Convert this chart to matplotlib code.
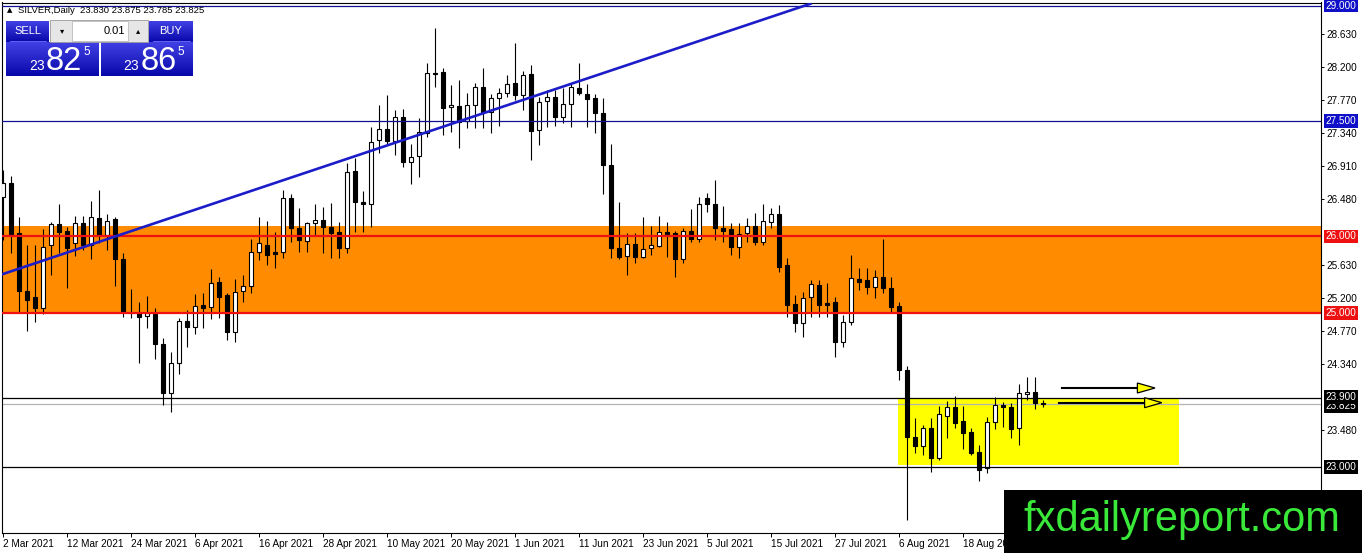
import numpy as np
import matplotlib
matplotlib.use("Agg")
import matplotlib.pyplot as plt
from matplotlib.patches import Rectangle, Polygon
from matplotlib.colors import LinearSegmentedColormap

plt.rcParams['font.family'] = ['Liberation Sans', 'DejaVu Sans']

# daily OHLC, 2 Mar 2021 .. 1 Sep 2021
opens = [
    26.511, 26.693, 26.043, 25.289, 25.211, 25.068, 25.887, 26.160, 26.069, 25.913,
    26.173, 25.887, 26.238, 26.017, 26.225, 25.705, 25.016, 25.016, 24.964, 24.990,
    24.600, 23.963, 24.353, 24.899, 24.821, 25.107, 25.081, 25.406, 25.237, 24.756,
    25.289, 25.354, 25.796, 25.887, 25.796, 25.796, 26.498, 26.108, 25.939, 26.173,
    26.212, 26.121, 26.056, 25.848, 26.849, 26.446, 26.420, 27.252, 27.395, 27.239,
    27.551, 26.966, 27.044, 27.343, 28.123, 28.136, 27.681, 27.694, 27.499, 27.707,
    27.941, 27.616, 27.798, 27.863, 27.993, 27.837, 28.110, 27.382, 27.759, 27.811,
    27.551, 27.720, 27.928, 27.850, 27.798, 27.603, 26.927, 25.848, 25.744, 25.900,
    25.731, 25.848, 25.874, 26.056, 26.043, 25.705, 26.069, 25.965, 26.498, 26.420,
    26.108, 26.095, 25.861, 26.043, 26.134, 25.926, 26.186, 26.290, 25.627, 25.120,
    24.873, 25.211, 25.367, 25.133, 25.146, 24.626, 24.886, 25.445, 25.432, 25.341,
    25.471, 25.328, 25.094, 24.262, 23.391, 23.274, 23.508, 23.118, 23.664, 23.781,
    23.599, 23.456, 23.196, 22.988, 23.586, 23.807, 23.781, 23.508, 23.950, 23.976,
    23.830]
highs = [
    26.862, 26.784, 26.251, 25.887, 25.887, 26.095, 26.186, 26.420, 26.121, 26.264,
    26.264, 26.459, 26.602, 26.290, 26.251, 25.783, 25.315, 25.146, 25.224, 25.068,
    24.678, 24.496, 24.938, 25.042, 25.250, 25.263, 25.575, 25.471, 25.263, 25.445,
    25.497, 25.965, 26.251, 26.199, 26.056, 26.602, 26.550, 26.368, 26.186, 26.420,
    26.381, 26.433, 26.186, 26.953, 27.018, 26.589, 27.421, 27.707, 27.837, 27.642,
    27.655, 27.200, 27.538, 28.253, 28.708, 28.188, 27.967, 28.032, 27.863, 27.993,
    28.188, 27.850, 27.928, 28.097, 28.513, 28.149, 28.227, 27.811, 27.902, 27.902,
    27.928, 27.993, 28.253, 27.980, 27.850, 27.798, 27.200, 26.446, 26.043, 26.043,
    26.251, 26.134, 26.264, 26.186, 26.069, 26.108, 26.355, 26.511, 26.563, 26.732,
    26.394, 26.173, 26.173, 26.238, 26.303, 26.420, 26.368, 26.407, 25.718, 25.237,
    25.276, 25.432, 25.432, 25.393, 25.211, 24.977, 25.757, 25.588, 25.588, 25.562,
    25.965, 25.471, 25.146, 24.314, 23.638, 23.547, 23.638, 23.794, 23.859, 23.924,
    23.794, 23.508, 23.287, 23.651, 23.911, 23.846, 23.833, 24.080, 24.171, 24.171,
    23.875]
lows = [
    25.952, 25.783, 25.016, 24.769, 24.886, 24.990, 25.497, 25.783, 25.328, 25.744,
    25.822, 25.705, 25.913, 25.822, 25.354, 24.951, 24.938, 24.353, 24.808, 24.405,
    23.807, 23.716, 24.210, 24.561, 24.730, 24.808, 24.925, 24.938, 24.652, 24.626,
    25.146, 25.263, 25.692, 25.627, 25.588, 25.718, 25.926, 25.796, 25.796, 26.017,
    25.783, 25.718, 25.718, 25.783, 26.056, 26.056, 26.121, 27.083, 27.187, 27.057,
    26.901, 26.680, 26.771, 27.291, 27.941, 27.317, 27.356, 27.148, 27.408, 27.408,
    27.408, 27.343, 27.434, 27.811, 27.772, 27.642, 26.992, 27.187, 27.421, 27.434,
    27.473, 27.421, 27.837, 27.421, 27.343, 26.550, 25.718, 25.705, 25.497, 25.653,
    25.718, 25.757, 25.861, 25.731, 25.471, 25.653, 25.926, 25.926, 26.316, 25.952,
    25.926, 25.757, 25.718, 25.926, 25.887, 25.887, 26.108, 25.536, 24.951, 24.756,
    24.691, 24.951, 24.951, 24.951, 24.431, 24.561, 24.847, 25.302, 25.250, 25.198,
    25.263, 25.016, 24.132, 22.312, 23.183, 23.157, 22.936, 23.092, 23.378, 23.508,
    23.235, 23.157, 22.819, 22.923, 23.495, 23.521, 23.378, 23.287, 23.872, 23.755,
    23.785]
closes = [
    26.693, 26.030, 25.289, 25.172, 25.068, 25.861, 26.160, 26.056, 25.848, 26.173,
    25.887, 26.251, 26.017, 26.199, 25.705, 25.016, 25.003, 24.951, 25.003, 24.600,
    23.963, 24.353, 24.899, 24.821, 25.094, 25.068, 25.393, 25.211, 24.756, 25.276,
    25.354, 25.796, 25.913, 25.757, 25.770, 26.498, 26.108, 25.952, 26.173, 26.212,
    26.121, 26.043, 25.848, 26.836, 26.446, 26.420, 27.226, 27.395, 27.239, 27.551,
    26.966, 27.031, 27.356, 28.123, 28.110, 27.668, 27.707, 27.486, 27.707, 27.941,
    27.616, 27.798, 27.863, 27.980, 27.837, 28.097, 27.369, 27.746, 27.811, 27.551,
    27.720, 27.941, 27.863, 27.785, 27.603, 26.927, 25.848, 25.731, 25.900, 25.731,
    25.835, 25.887, 26.056, 26.030, 25.705, 26.069, 25.965, 26.420, 26.420, 26.108,
    26.069, 25.861, 26.030, 26.134, 25.926, 26.199, 26.290, 25.601, 25.107, 24.873,
    25.198, 25.380, 25.107, 25.107, 24.626, 24.886, 25.458, 25.406, 25.341, 25.471,
    25.328, 25.081, 24.262, 23.391, 23.274, 23.508, 23.118, 23.690, 23.781, 23.573,
    23.443, 23.183, 22.962, 23.586, 23.807, 23.781, 23.495, 23.963, 23.976, 23.833,
    23.825]

date_ticks = [0, 8, 16, 24, 32, 40, 48, 56, 64, 72, 80, 88, 96, 104, 112, 120, 128]
date_labels = ["2 Mar 2021", "12 Mar 2021", "24 Mar 2021", "6 Apr 2021", "16 Apr 2021",
               "28 Apr 2021", "10 May 2021", "20 May 2021", "1 Jun 2021", "11 Jun 2021",
               "23 Jun 2021", "5 Jul 2021", "15 Jul 2021", "27 Jul 2021", "6 Aug 2021",
               "18 Aug 2021", "30 Aug 2021"]
price_ticks = [28.630, 28.200, 27.770, 27.340, 26.910, 26.480, 25.630, 25.200,
               24.770, 24.340, 23.480]

# drawn objects
zone_low, zone_high = 25.000, 26.134
red_levels = [26.000, 25.000]
blue_levels = [29.000, 27.500]
black_levels = [23.900, 23.000]
bid = 23.825
trend_x = [-0.375, 101.1]
trend_y = [25.497, 29.030]
box_x = [111.9, 147.0]
box_y = [23.027, 23.890]
arrows = [(132.4, 141.8, 144.0, 24.028), (132.0, 142.7, 144.85, 23.837)]

W, H = 1362, 553
fig = plt.figure(figsize=(W / 100, H / 100), dpi=100)
ax = fig.add_axes([2 / W, 1 - 533 / H, 1319 / W, 530.5 / H])
ax.set_xlim(-0.125, 164.75)
ax.set_ylim(22.143, 29.040)

o = np.array(opens)
h = np.array(highs)
l = np.array(lows)
c = np.array(closes)
x = np.arange(len(o))

ax.axhspan(zone_low, zone_high, color='#ff8c00', lw=0, zorder=0)
ax.add_patch(Rectangle((box_x[0], box_y[0]), box_x[1] - box_x[0], box_y[1] - box_y[0],
                       color='#ffff00', lw=0, zorder=0.5))

ax.vlines(x, l, h, color='black', lw=0.8, zorder=3)
face = np.where(c >= o, 'white', 'black')
ax.bar(x, np.maximum(np.abs(c - o), 0.004), bottom=np.minimum(o, c), width=0.55,
       color=face, edgecolor='black', linewidth=0.8, zorder=4)

for lv in blue_levels:
    ax.axhline(lv, color='#101090', lw=0.9, zorder=5)
for lv in black_levels:
    ax.axhline(lv, color='black', lw=0.9, zorder=5)
ax.axhline(bid, color='#b4b4b4', lw=0.9, zorder=2)
for lv in red_levels:
    ax.axhline(lv, color='#ee1111', lw=1.6, zorder=5)

ax.plot(trend_x, trend_y, color='#1c1cc8', lw=1.9, zorder=6, solid_capstyle='butt')

for x0, x1, tip, yv in arrows:
    ax.plot([x0, x1], [yv, yv], color='black', lw=1.5, zorder=6)
    ax.add_patch(Polygon([[x1, yv + 0.065], [x1, yv - 0.065], [tip, yv]],
                         closed=True, fc='#ffff00', ec='black', lw=0.9, zorder=7))

# axes styling
for s in ax.spines.values():
    s.set_color('black')
    s.set_linewidth(0.8)
ax.yaxis.tick_right()
ax.set_yticks(price_ticks)
ax.set_yticklabels(['%.3f' % v for v in price_ticks])
ax.tick_params(axis='y', length=2.5, width=0.7, pad=1.5, labelsize=7.2)
ax.set_xticks(date_ticks)
ax.set_xticklabels(date_labels)
ax.tick_params(axis='x', length=3, width=0.7, pad=1.5, labelsize=7.2)
plt.setp(ax.get_xticklabels(), ha='left')

tr = ax.get_yaxis_transform()
# (level, colour, small vertical nudge so stacked tags stay readable)
tags = [(29.000, '#1010c8', 0), (27.500, '#1010c8', 0), (26.000, '#ee1111', 0),
        (25.000, '#ee1111', 0), (23.825, 'black', -0.035), (23.900, 'black', 0.01),
        (23.000, 'black', 0)]
for i, (lv, col, dy) in enumerate(tags):
    ax.text(1.0035, lv + dy, '%.3f' % lv, transform=tr, color='white', fontsize=7.2,
            va='center', ha='left', clip_on=False, zorder=20 + i,
            bbox=dict(boxstyle='square,pad=0.18', fc=col, ec='none'))

# overlay in pixel coordinates: trade panel, header, logo
ov = fig.add_axes([0, 0, 1, 1], zorder=10)
ov.patch.set_alpha(0)
ov.axis('off')

cmap = LinearSegmentedColormap.from_list('mt', ['#4040e4', '#0808aa'])
grad = np.linspace(0, 1, 64).reshape(-1, 1)
for (x0, x1, y0, y1) in [(6, 49, 21, 42), (149, 193, 21, 42), (6, 99, 42, 76), (101, 193, 42, 76)]:
    ov.imshow(grad, extent=(x0, x1, y1, y0), cmap=cmap, aspect='auto', origin='upper', zorder=1)
ov.plot([10, 46], [41, 41], color='#7070ff', lw=0.6, zorder=2)
ov.plot([153, 190], [41, 41], color='#7070ff', lw=0.6, zorder=2)

ov.add_patch(Rectangle((50, 20), 98, 22, fc='#e6e6e6', ec='#9a9a9a', lw=0.6, zorder=1))
ov.add_patch(Rectangle((72, 21), 56, 20, fc='white', ec='#b0b0b0', lw=0.5, zorder=2))
ov.text(62, 31, '▾', fontsize=6, ha='center', va='center', family='DejaVu Sans', zorder=3)
ov.text(138, 31, '▴', fontsize=6, ha='center', va='center', family='DejaVu Sans', zorder=3)
ov.text(125, 31, '0.01', fontsize=8, ha='right', va='center', zorder=3)

ov.text(27.5, 31, 'SELL', color='white', fontsize=8, ha='center', va='center', zorder=3)
ov.text(171, 31, 'BUY', color='white', fontsize=8, ha='center', va='center', zorder=3)
for (xs, xb, xp, big) in [(29, 46, 83, '82'), (123, 141, 177, '86')]:
    ov.text(xs, 70, '23', color='white', fontsize=10, ha='left', va='baseline', zorder=3)
    ov.text(xb, 70, big, color='white', fontsize=23.5, ha='left', va='baseline', zorder=3)
    ov.text(xp, 55, '5', color='white', fontsize=8.5, ha='left', va='baseline', zorder=3)

ov.text(7, 10.5, '▲', fontsize=5, ha='left', va='center', family='DejaVu Sans')
ov.text(18, 10.5, 'SILVER,Daily  23.830 23.875 23.785 23.825', fontsize=6.8,
        ha='left', va='center')

ov.add_patch(Rectangle((1004, 490), 360, 65, fc='black', ec='none', zorder=1))
ov.text(1182, 531.5, 'fxdailyreport.com', color='#3ae83a', fontsize=30,
        ha='center', va='baseline', zorder=2)

ov.set_xlim(0, W)
ov.set_ylim(H, 0)

fig.savefig('out.png', dpi=100, facecolor='white')
